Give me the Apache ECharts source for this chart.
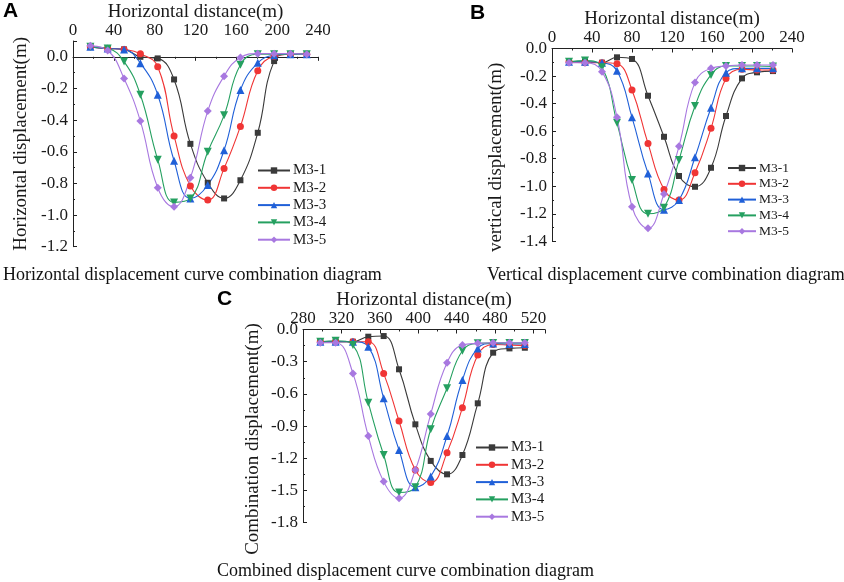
<!DOCTYPE html>
<html>
<head>
<meta charset="utf-8">
<script src="https://cdn.jsdelivr.net/npm/echarts@6/dist/echarts.min.js"></script>
<style>html,body{margin:0;padding:0;background:#fff;}#c{width:844px;height:582px;}</style>
</head>
<body>
<div id="c"></div>
<script>
// ---- data ----
var seriesNames = ['M3-1', 'M3-2', 'M3-3', 'M3-4', 'M3-5'];

// Panel A: horizontal displacement
var xA = [17, 34, 50, 66, 83, 99, 115, 132, 148, 164, 181, 197, 213, 229];
var A1 = [0.063, 0.053, 0.047, 0.0, -0.01, -0.143, -0.55, -0.796, -0.895, -0.78, -0.48, -0.027, 0.017, 0.017];
var A2 = [0.063, 0.053, 0.047, 0.02, -0.063, -0.50, -0.817, -0.905, -0.705, -0.44, -0.088, 0.004, 0.017, 0.017];
var A3 = [0.063, 0.053, 0.047, -0.04, -0.24, -0.657, -0.895, -0.81, -0.59, -0.21, -0.038, 0.01, 0.017, 0.017];
var A4 = [0.063, 0.053, -0.03, -0.24, -0.65, -0.92, -0.895, -0.6, -0.37, -0.05, 0.017, 0.017, 0.017, 0.017];
var A5 = [0.07, 0.04, -0.137, -0.406, -0.827, -0.947, -0.764, -0.343, -0.122, -0.004, 0.02, 0.02, 0.02, 0.017];

// Panel B: vertical displacement
var xB = [17, 33, 50, 65, 80, 96, 112, 127, 143, 159, 174, 190, 205, 221];
var B1 = [-0.096, -0.096, -0.103, -0.064, -0.076, -0.343, -0.641, -0.926, -1.004, -0.866, -0.49, -0.217, -0.173, -0.164];
var B2 = [-0.096, -0.103, -0.103, -0.111, -0.301, -0.689, -1.023, -1.10, -0.902, -0.58, -0.217, -0.151, -0.156, -0.156];
var B3 = [-0.096, -0.096, -0.103, -0.161, -0.50, -0.907, -1.17, -1.10, -0.79, -0.43, -0.176, -0.144, -0.144, -0.144];
var B4 = [-0.096, -0.088, -0.137, -0.54, -0.955, -1.20, -1.156, -0.81, -0.418, -0.192, -0.127, -0.127, -0.127, -0.131];
var B5 = [-0.103, -0.103, -0.168, -0.50, -1.149, -1.306, -1.057, -0.71, -0.246, -0.144, -0.127, -0.12, -0.12, -0.12];

// Panel C: combined displacement
var xC = [298, 314, 332, 348, 364, 380, 397, 413, 430, 446, 462, 478, 495, 511];
var C1 = [-0.114, -0.114, -0.114, -0.067, -0.061, -0.371, -0.884, -1.225, -1.35, -1.17, -0.688, -0.216, -0.176, -0.17];
var C2 = [-0.114, -0.114, -0.114, -0.114, -0.409, -0.853, -1.31, -1.427, -1.148, -0.729, -0.238, -0.14, -0.145, -0.15];
var C3 = [-0.114, -0.114, -0.114, -0.16, -0.642, -1.123, -1.47, -1.371, -0.993, -0.471, -0.176, -0.13, -0.135, -0.135];
var C4 = [-0.114, -0.105, -0.145, -0.682, -1.17, -1.52, -1.47, -0.93, -0.548, -0.198, -0.129, -0.125, -0.125, -0.125];
var C5 = [-0.123, -0.123, -0.409, -0.993, -1.418, -1.573, -1.309, -0.788, -0.309, -0.145, -0.129, -0.123, -0.123, -0.123];

var xTicksA = [0, 240, 40];      // min, max, interval
var yTicksA = [-1.2, 0.1, 0.2];
var xTicksB = [0, 240, 40];
var yTicksB = [-1.4, 0, 0.2];
var xTicksC = [280, 532, 40];
var yTicksC = [-1.8, 0, 0.3];

var xNames = ['Horizontal distance(m)', 'Horizontal distance(m)', 'Horizontal distance(m)'];
var yNames = ['Horizontal displacement(m)', 'vertical displacement(m)', 'Combination displacement(m)'];
var captions = ['Horizontal displacement curve combination diagram',
                'Vertical displacement curve combination diagram',
                'Combined displacement curve combination diagram'];
var panelLetters = ['A', 'B', 'C'];

// ---- styles ----
var SERIF = '"Liberation Serif", "Times New Roman", serif';
var SANS = '"Liberation Sans", Arial, sans-serif';
var colors = ['#3a3a3a', '#f03535', '#2060d8', '#25a060', '#a878e0'];
var symbols = ['rect', 'circle', 'triangle', 'triangle', 'diamond'];
var symRot = [0, 0, 0, 180, 0];
var symSize = [6, 7, 8, 8, 8];

function pairs(xs, ys) { return xs.map(function (x, i) { return [x, ys[i]]; }); }

function xAxisOf(idx, t, gap) {
  return {
    type: 'value', gridIndex: idx, position: 'top',
    min: t[0], max: t[1], interval: t[2],
    name: xNames[idx], nameLocation: 'middle', nameGap: gap,
    nameTextStyle: { fontFamily: SERIF, fontSize: 19, color: '#1a1a1a' },
    axisLine: { show: true, lineStyle: { color: '#222', width: 1 } },
    axisTick: { show: true, inside: true, length: 4, lineStyle: { color: '#222' } },
    minorTick: { show: true, splitNumber: 2, length: 2, lineStyle: { color: '#222' } },
    axisLabel: { fontFamily: SERIF, fontSize: 17, color: '#1a1a1a', margin: 2, showMaxLabel: t[1] % t[2] === 0 },
    splitLine: { show: false }
  };
}
function yAxisOf(idx, t, gap, pad) {
  return {
    type: 'value', gridIndex: idx,
    min: t[0], max: t[1], interval: t[2],
    name: yNames[idx], nameLocation: 'middle', nameGap: gap,
    nameTextStyle: { fontFamily: SERIF, fontSize: 19, color: '#1a1a1a', padding: pad },
    axisLine: { show: true, lineStyle: { color: '#222', width: 1 } },
    axisTick: { show: true, inside: true, length: 4, lineStyle: { color: '#222' } },
    minorTick: { show: true, splitNumber: 2, length: 2, lineStyle: { color: '#222' } },
    axisLabel: {
      fontFamily: SERIF, fontSize: 17, color: '#1a1a1a', margin: 5,
      showMaxLabel: Math.abs(t[1] / t[2] - Math.round(t[1] / t[2])) < 1e-9,
      formatter: function (v) { return (Math.abs(v) < 1e-9 ? 0 : v).toFixed(1); }
    },
    splitLine: { show: false }
  };
}

var panels = [
  { x: xA, ys: [A1, A2, A3, A4, A5] },
  { x: xB, ys: [B1, B2, B3, B4, B5] },
  { x: xC, ys: [C1, C2, C3, C4, C5] }
];

var series = [];
panels.forEach(function (p, pi) {
  p.ys.forEach(function (ys, si) {
    series.push({
      type: 'line', name: seriesNames[si],
      xAxisIndex: pi, yAxisIndex: pi,
      data: pairs(p.x, ys),
      smooth: 0.45,
      symbol: symbols[si], symbolSize: symSize[si], symbolRotate: symRot[si],
      showAllSymbol: true,
      itemStyle: { color: colors[si] },
      lineStyle: { color: colors[si], width: 1.1 },
      emphasis: { disabled: true }
    });
  });
});

function legendOf(left, top, fs, gap, w) {
  return {
    orient: 'vertical', left: left, top: top, padding: 0,
    itemWidth: w, itemHeight: 8, itemGap: gap,
    data: seriesNames,
    textStyle: { fontFamily: SERIF, fontSize: fs, color: '#1a1a1a', lineHeight: fs, padding: [0, 0, 0, -2] },
    selectedMode: false
  };
}

var option = {
  animation: false,
  backgroundColor: '#fff',
  title: [
    { text: panelLetters[0], left: 3, top: 1, padding: 0, textStyle: { fontFamily: SANS, fontWeight: 'bold', fontSize: 21, color: '#000' } },
    { text: panelLetters[1], left: 470, top: 3, padding: 0, textStyle: { fontFamily: SANS, fontWeight: 'bold', fontSize: 21, color: '#000' } },
    { text: panelLetters[2], left: 217, top: 289, padding: 0, textStyle: { fontFamily: SANS, fontWeight: 'bold', fontSize: 21, color: '#000' } },
    { text: captions[0], left: 3, top: 266, padding: 0, textStyle: { fontFamily: SERIF, fontWeight: 'normal', fontSize: 18, color: '#111' } },
    { text: captions[1], left: 487, top: 266, padding: 0, textStyle: { fontFamily: SERIF, fontWeight: 'normal', fontSize: 18, color: '#111' } },
    { text: captions[2], left: 217, top: 562, padding: 0, textStyle: { fontFamily: SERIF, fontWeight: 'normal', fontSize: 18, color: '#111' } }
  ],
  legend: [
    legendOf(257, 163, 15, 2.3, 32),
    legendOf(727, 161, 13.5, 1.8, 28),
    legendOf(475, 440, 15, 2.3, 32)
  ],
  grid: [
    { left: 73, top: 41, width: 245, height: 205.7, containLabel: false, outerBoundsMode: 'none' },
    { left: 552, top: 48.5, width: 240, height: 192.8, containLabel: false, outerBoundsMode: 'none' },
    { left: 303, top: 329.5, width: 242, height: 193.1, containLabel: false, outerBoundsMode: 'none' }
  ],
  xAxis: [xAxisOf(0, xTicksA, 17), xAxisOf(1, xTicksB, 17.5), xAxisOf(2, xTicksC, 19)],
  yAxis: [yAxisOf(0, yTicksA, 42, 0), yAxisOf(1, yTicksB, 46, [0, 25, 0, 0]), yAxisOf(2, yTicksC, 40, [0, 26, 0, 0])],
  series: series
};

var chart = echarts.init(document.getElementById('c'), null, { renderer: 'canvas' });
chart.setOption(option);
</script>
</body>
</html>
